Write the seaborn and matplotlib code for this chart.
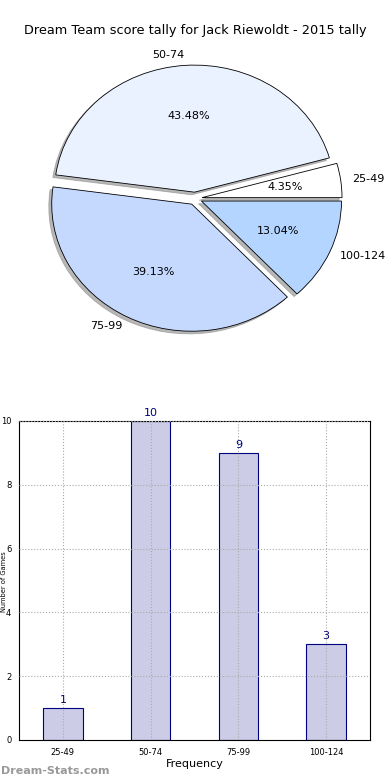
import matplotlib
matplotlib.use("Agg")
import matplotlib.pyplot as plt
import seaborn as sns
import pandas as pd

categories = ["25-49", "50-74", "75-99", "100-124"]
counts = [1, 10, 9, 3]
pie_colors = ["#ffffff", "#eaf1ff", "#c5d9ff", "#b3d5ff"]
title = "Dream Team score tally for Jack Riewoldt - 2015 tally"
ylabel = "Number of Games"
xlabel = "Frequency"
yticks = [0, 2, 4, 6, 8, 10]

sns.set_style("white")
plt.rcParams['font.family'] = ['DejaVu Sans']
plt.rcParams.update({"text.color": "black", "axes.labelcolor": "black",
                     "xtick.color": "black", "ytick.color": "black"})

fig = plt.figure(figsize=(3.9, 7.8), dpi=100)

# Pie
ax1 = fig.add_axes([0.069, 0.55, 0.862, 0.391])
ax1.pie(counts, labels=categories, colors=pie_colors, autopct="%1.2f%%",
        explode=[0.05] * len(counts), shadow=dict(color="#888888", alpha=0.6, ox=-0.015, oy=-0.015),
        startangle=0, labeldistance=1.08,
        wedgeprops=dict(edgecolor="black", linewidth=0.6),
        textprops=dict(fontsize=8, color="black"))
ax1.set_aspect("auto")
ax1.set_xlim(-1.2, 1.2)
ax1.set_ylim(-1.2, 1.2)
fig.text(0.5, 0.961, title, ha="center", va="center", fontsize=9.3)

# Bar
ax2 = fig.add_axes([0.0487, 0.0513, 0.9, 0.409])
df = pd.DataFrame({"cat": categories, "count": counts})
sns.barplot(data=df, x="cat", y="count", ax=ax2, color="#ccccE6",
            edgecolor="navy", linewidth=0.8, width=0.45, saturation=1)
for i, v in enumerate(counts):
    ax2.text(i, v + 0.1, str(v), ha="center", va="bottom", color="navy", fontsize=8)
ax2.set_xlim(-0.5, 3.5)
ax2.set_ylim(0, 10)
ax2.set_yticks(yticks)
ax2.tick_params(labelsize=6, length=2)
ax2.grid(True, linestyle=":", color="#aaaaaa", linewidth=0.8)
ax2.set_axisbelow(False)
for s in ax2.spines.values():
    s.set_color("black")
    s.set_linewidth(0.8)
ax2.set_xlabel(xlabel, fontsize=8, labelpad=2)
ax2.set_ylabel("")
fig.text(0.002, 0.254, ylabel, rotation=90, fontsize=4.8, ha="left", va="center")

fig.text(0.002, 0.012, "Dream-Stats.com", fontsize=8, fontweight="bold",
         color="#999999", ha="left", va="center")

fig.savefig("out.png", dpi=100)
